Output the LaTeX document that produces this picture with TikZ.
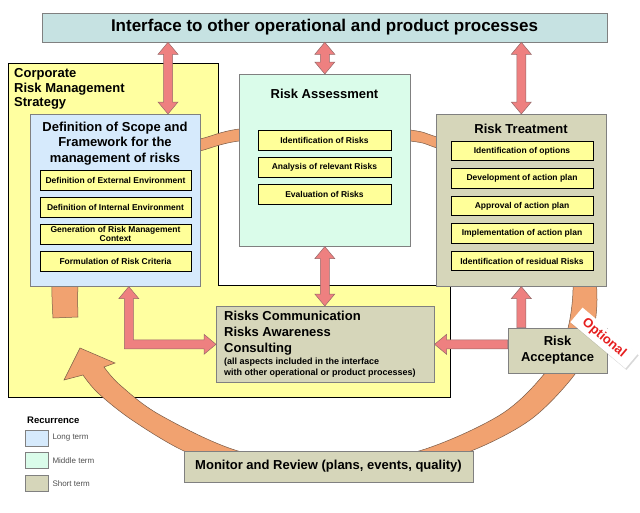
\documentclass[tikz,border=0pt]{standalone}
\usepackage{fontspec}
\setmainfont{Liberation Sans}
\usetikzlibrary{calc,shadows}

\definecolor{ifacefill}{RGB}{198,226,226}
\definecolor{strategyfill}{RGB}{255,255,160}
\definecolor{longterm}{RGB}{214,234,252}
\definecolor{middleterm}{RGB}{218,252,234}
\definecolor{shortterm}{RGB}{214,214,186}
\definecolor{taskfill}{RGB}{255,255,153}
\definecolor{flowred}{RGB}{238,128,128}
\definecolor{flowline}{RGB}{150,105,105}
\definecolor{cycleorange}{RGB}{241,162,112}
\definecolor{cycleline}{RGB}{120,90,70}
\definecolor{boxline}{RGB}{128,128,128}
\definecolor{optred}{RGB}{230,30,30}
\definecolor{keygray}{RGB}{80,80,80}

\begin{document}
\begin{tikzpicture}[x=1pt, y=-1pt,
		box/.style={draw=boxline, line width=0.6pt, inner sep=0pt},
		task/.style={draw=black, line width=0.9pt, fill=taskfill, inner sep=0pt, minimum height=20pt, align=center, font=\fontsize{8.5}{9}\selectfont\bfseries},
		heading/.style={inner sep=0pt, align=center, font=\fontsize{13}{15.5}\selectfont\bfseries},
		keybox/.style={draw=boxline, line width=0.6pt, minimum width=23pt, minimum height=16pt, inner sep=0pt},
		keytext/.style={anchor=west, inner sep=0pt, text=keygray, font=\fontsize{8}{9}\selectfont},
		flowarrow/.style={draw=flowline, fill=flowred, line width=0.5pt, line join=miter},
		twoway/.style={flowarrow, to path={
				-- ($(\tikztostart)!12pt!(\tikztotarget)!10pt!90:(\tikztotarget)$)
				-- ($(\tikztostart)!12pt!(\tikztotarget)!4.5pt!90:(\tikztotarget)$)
				-- ($(\tikztotarget)!12pt!(\tikztostart)!4.5pt!90:(\tikztotarget)$)
				-- ($(\tikztotarget)!12pt!(\tikztostart)!10pt!90:(\tikztotarget)$)
				-- (\tikztotarget)
				-- ($(\tikztotarget)!12pt!(\tikztostart)!10pt!-90:(\tikztotarget)$)
				-- ($(\tikztotarget)!12pt!(\tikztostart)!4.5pt!-90:(\tikztotarget)$)
				-- ($(\tikztostart)!12pt!(\tikztotarget)!4.5pt!-90:(\tikztotarget)$)
				-- ($(\tikztostart)!12pt!(\tikztotarget)!10pt!-90:(\tikztotarget)$)
				-- cycle}},
		oneway/.style={flowarrow, to path={
				($(\tikztostart)!4.5pt!90:(\tikztotarget)$)
				-- ($(\tikztotarget)!12pt!(\tikztostart)!4.5pt!90:(\tikztotarget)$)
				-- ($(\tikztotarget)!12pt!(\tikztostart)!10pt!90:(\tikztotarget)$)
				-- (\tikztotarget)
				-- ($(\tikztotarget)!12pt!(\tikztostart)!10pt!-90:(\tikztotarget)$)
				-- ($(\tikztotarget)!12pt!(\tikztostart)!4.5pt!-90:(\tikztotarget)$)
				-- ($(\tikztostart)!4.5pt!-90:(\tikztotarget)$)
				-- cycle}},
		optlabel/.style={fill=white, text=optred, inner sep=1pt, minimum width=72pt, minimum height=19pt, font=\fontsize{13}{15}\selectfont\bfseries, drop shadow={opacity=0.3, shadow xshift=1pt, shadow yshift=-1.5pt}}
	]
	\useasboundingbox[fill=white] (0,0) rectangle (640,512);
	
	% Interface
	\node[box, fill=ifacefill, minimum width=565pt, minimum height=29pt, font=\fontsize{17}{20}\selectfont\bfseries] (iface) at (324.5,27.5) {Interface to other operational and product processes};
	
	% Corporate strategy area
	\draw[fill=strategyfill, draw=black, line width=0.8pt] (8,63) -- (218,63) -- (218,285) -- (450,285) -- (450,397) -- (8,397) -- cycle;
	\node[anchor=west, align=left, inner sep=0pt, font=\fontsize{13}{14.5}\selectfont\bfseries] (strategy) at (14,89) {Corporate\\Risk Management\\Strategy};
	
	% Cycle band
	\draw[fill=cycleorange, draw=cycleline, line width=0.5pt] plot[smooth, tension=0.55] coordinates {(53,318) (52,286) (56,245) (75,200) (110,165) (160,147) (200,139) (239,129) (324,122) (410,130) (437,137) (505,158) (560,200) (590,250) (597,300) (590,345) (572,378) (530,420) (471,451) (400,472) (320,480) (240,470) (184,451) (132,420) (98,393) (83,375)}
		-- (64,380) -- (80,348) -- (115,363)
		-- plot[smooth, tension=0.55] coordinates {(104,367) (120,385) (160,415) (238,451) (330,466) (419,451) (500,415) (545,373) (566,335) (573,290) (568,250) (545,208) (500,170) (437,148) (410,141) (324,134) (239,141) (200,151) (165,160) (125,182) (98,212) (83,250) (78,286) (78,317)}
		-- cycle;
	
	% Scope and framework
	\node[box, fill=longterm, anchor=north west, minimum width=170pt, minimum height=172pt] (scope) at (30,114) {};
	\node[heading] (scopetitle) at (115,143.5) {Definition of Scope and\\Framework for the\\management of risks};
	\node[task, minimum width=151pt] (extenv) at (115.5,180) {Definition of External Environment};
	\node[task, minimum width=151pt] (intenv) at (115.5,207) {Definition of Internal Environment};
	\node[task, minimum width=151pt] (context) at (115.5,234) {Generation of Risk Management\\Context};
	\node[task, minimum width=151pt] (criteria) at (115.5,261) {Formulation of Risk Criteria};
	
	% Risk assessment
	\node[box, fill=middleterm, anchor=north west, minimum width=171pt, minimum height=172pt] (assess) at (239,74) {};
	\node[heading] (assesstitle) at (324.5,94) {Risk Assessment};
	\node[task, minimum width=133pt] (identify) at (324.5,140) {Identification of Risks};
	\node[task, minimum width=133pt] (analyse) at (324.5,167) {Analysis of relevant Risks};
	\node[task, minimum width=133pt] (evaluate) at (324.5,194) {Evaluation of Risks};
	
	% Risk treatment
	\node[box, fill=shortterm, anchor=north west, minimum width=170pt, minimum height=172pt] (treat) at (436,114) {};
	\node[heading] (treattitle) at (521,129) {Risk Treatment};
	\node[task, minimum width=142pt, minimum height=19.5pt] (options) at (522,151) {Identification of options};
	\node[task, minimum width=142pt, minimum height=19.5pt] (develop) at (522,178.5) {Development of action plan};
	\node[task, minimum width=142pt, minimum height=19.5pt] (approve) at (522,206) {Approval of action plan};
	\node[task, minimum width=142pt, minimum height=19.5pt] (implement) at (522,233.5) {Implementation of action plan};
	\node[task, minimum width=142pt, minimum height=19.5pt] (residual) at (522,261) {Identification of residual Risks};
	
	% Communication
	\node[box, fill=shortterm, anchor=north west, minimum width=218pt, minimum height=76pt] (comm) at (216,306) {};
	\node[anchor=west, align=left, inner sep=0pt, font=\fontsize{13}{16}\selectfont\bfseries] (commtitle) at (224,333) {Risks Communication\\Risks Awareness\\Consulting};
	\node[anchor=west, align=left, inner sep=0pt, font=\fontsize{9}{10.5}\selectfont\bfseries] (commnote) at (224,367.5) {(all aspects included in the interface\\with other operational or product processes)};
	
	% Acceptance and monitoring
	\node[box, fill=shortterm, minimum width=99pt, minimum height=45pt, align=center, font=\fontsize{13}{16}\selectfont\bfseries] (accept) at (557.5,350.5) {Risk\\Acceptance};
	\node[box, fill=shortterm, minimum width=289pt, minimum height=31pt, font=\fontsize{13}{15}\selectfont\bfseries] (monitor) at (328.5,466.5) {Monitor and Review (plans, events, quality)};
	\node[optlabel, rotate=-40] (optional) at (604,338) {Optional};
	
	% Arrows
	\coordinate (scopetop) at (168,114);
	\coordinate (ifacetoscope) at (iface.south -| scopetop);
	\coordinate (ifacetoassess) at (iface.south -| assess.north);
	\coordinate (ifacetotreat) at (iface.south -| treat.north);
	\coordinate (commtop) at (comm.north -| assess.south);
	\coordinate (acceptout) at (accept.west |- comm.east);
	\coordinate (acceptup) at (treat.south |- accept.north);
	\coordinate (scopebottom) at ($(scope.south)+(13.5,0)$);
	\draw[twoway] (ifacetoscope) to (scopetop);
	\draw[twoway] (ifacetoassess) to (assess.north);
	\draw[twoway] (ifacetotreat) to (treat.north);
	\draw[twoway] (assess.south) to (commtop);
	\draw[oneway] (acceptout) to (comm.east);
	\draw[oneway] (acceptup) to (treat.south);
	\draw[flowarrow] (scopebottom) -- ++(10,12) -- ++(-5.5,0) |- ($(comm.west)+(-12,-4.5)$) -- ++(0,-5.5) -- (comm.west) -- ++(-12,10) -- ++(0,-5.5) -| ($(scopebottom)+(-4.5,12)$) -- ++(-5.5,0) -- cycle;
	
	% Legend
	\node[anchor=west, inner sep=0pt, font=\fontsize{9.5}{11}\selectfont\bfseries] (keyhead) at (27,420) {Recurrence};
	\node[keybox, fill=longterm] (keylong) at (36.5,438) {};
	\node[keybox, fill=middleterm] (keymiddle) at (36.5,460.5) {};
	\node[keybox, fill=shortterm] (keyshort) at (36.5,483.5) {};
	\node[keytext] (keylongtext) at ([xshift=4pt]keylong.east) {Long term};
	\node[keytext] (keymiddletext) at ([xshift=4pt]keymiddle.east) {Middle term};
	\node[keytext] (keyshorttext) at ([xshift=4pt]keyshort.east) {Short term};
	
\end{tikzpicture}
\end{document}
